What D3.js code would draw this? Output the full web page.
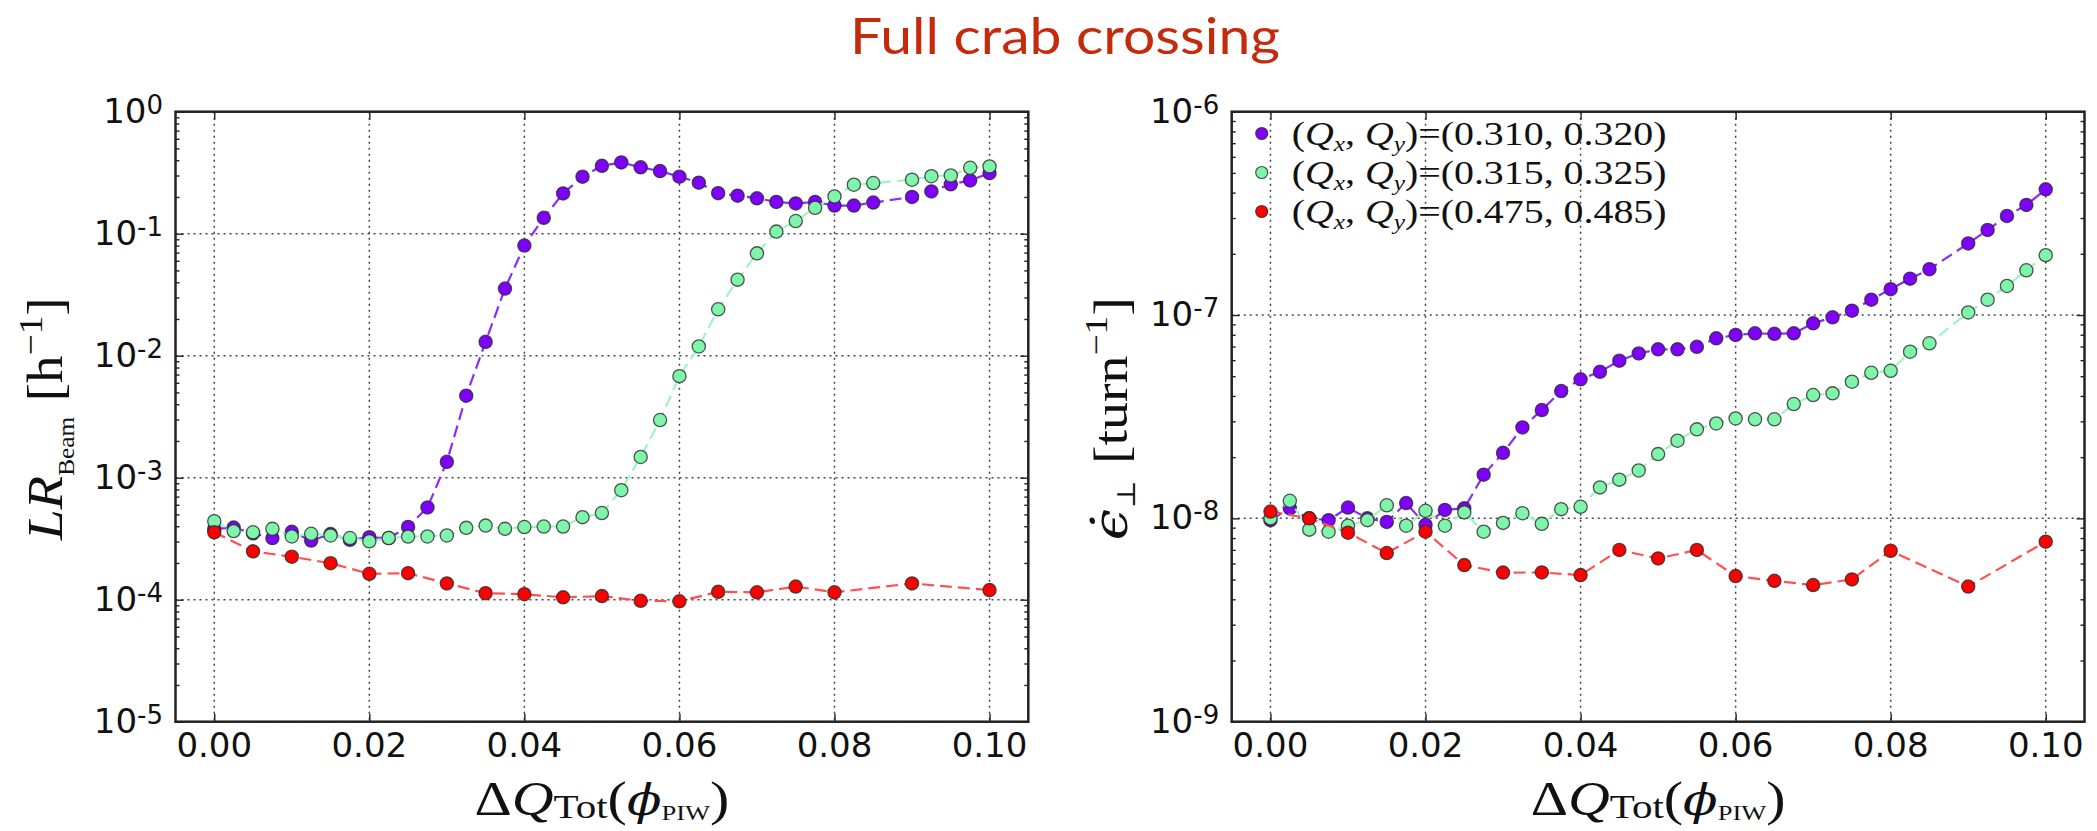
<!DOCTYPE html>
<html>
<head>
<meta charset="utf-8">
<script src="https://cdn.jsdelivr.net/npm/d3@7"></script>
<style>
  body { margin: 0; background: #fff; }
  svg { display: block; }
</style>
</head>
<body>
<svg id="chart" width="2097" height="831"></svg>
<script>
// Tune spread scan: ΔQ_Tot values of the fine scan (0.0875 was not run) and of the coarse scan
const dqFine = [0.0000, 0.0025, 0.0050, 0.0075, 0.0100, 0.0125, 0.0150, 0.0175, 0.0200, 0.0225,
                0.0250, 0.0275, 0.0300, 0.0325, 0.0350, 0.0375, 0.0400, 0.0425, 0.0450, 0.0475,
                0.0500, 0.0525, 0.0550, 0.0575, 0.0600, 0.0625, 0.0650, 0.0675, 0.0700, 0.0725,
                0.0750, 0.0775, 0.0800, 0.0825, 0.0850, 0.0900, 0.0925, 0.0950, 0.0975, 0.1000];
const dqCoarse = [0.000, 0.005, 0.010, 0.015, 0.020, 0.025, 0.030, 0.035, 0.040, 0.045,
                  0.050, 0.055, 0.060, 0.065, 0.070, 0.075, 0.080, 0.090, 0.100];

const xTickValues = [0.00, 0.02, 0.04, 0.06, 0.08, 0.10];

// Beam loss rate LR_Beam [1/h]
const lossPurple = [3.8e-4, 3.9e-4, 3.5e-4, 3.2e-4, 3.6e-4, 3.05e-4, 3.45e-4, 3.1e-4, 3.25e-4, 3.2e-4,
                    3.95e-4, 5.7e-4, 1.35e-3, 4.7e-3, 1.3e-2, 3.55e-2, 8.0e-2, 0.135, 0.214, 0.293,
                    0.36, 0.384, 0.35, 0.326, 0.293, 0.262, 0.215, 0.205, 0.195, 0.182,
                    0.177, 0.182, 0.17, 0.17, 0.18, 0.2, 0.222, 0.254, 0.273, 0.314];
const lossGreen = [4.4e-4, 3.65e-4, 3.57e-4, 3.81e-4, 3.3e-4, 3.47e-4, 3.36e-4, 3.2e-4, 3.01e-4, 3.2e-4,
                   3.29e-4, 3.3e-4, 3.36e-4, 3.88e-4, 4.05e-4, 3.81e-4, 3.94e-4, 3.98e-4, 3.98e-4, 4.75e-4,
                   5.13e-4, 7.9e-4, 1.48e-3, 2.97e-3, 6.8e-3, 1.19e-2, 2.4e-2, 4.2e-2, 6.9e-2, 0.104,
                   0.127, 0.163, 0.202, 0.252, 0.26, 0.277, 0.296, 0.30, 0.347, 0.356];
const lossRed = [3.57e-4, 2.49e-4, 2.25e-4, 1.99e-4, 1.63e-4, 1.65e-4, 1.36e-4, 1.13e-4, 1.11e-4, 1.045e-4,
                 1.07e-4, 0.98e-4, 0.97e-4, 1.16e-4, 1.15e-4, 1.28e-4, 1.15e-4, 1.36e-4, 1.2e-4];

// Emittance growth rate [1/turn]
const emitPurple = [9.8e-9, 1.12e-8, 1.0e-8, 9.8e-9, 1.13e-8, 1.0e-8, 9.6e-9, 1.19e-8, 9.3e-9, 1.1e-8,
                    1.12e-8, 1.64e-8, 2.1e-8, 2.8e-8, 3.41e-8, 4.23e-8, 4.83e-8, 5.26e-8, 5.96e-8, 6.47e-8,
                    6.78e-8, 6.78e-8, 6.98e-8, 7.68e-8, 7.98e-8, 8.13e-8, 8.08e-8, 8.13e-8, 9.1e-8, 9.75e-8,
                    1.05e-7, 1.19e-7, 1.34e-7, 1.51e-7, 1.68e-7, 2.25e-7, 2.62e-7, 3.07e-7, 3.48e-7, 4.15e-7];
const emitGreen = [1.0e-8, 1.22e-8, 8.8e-9, 8.6e-9, 9.2e-9, 9.8e-9, 1.16e-8, 9.2e-9, 1.09e-8, 9.2e-9,
                   1.07e-8, 8.6e-9, 9.5e-9, 1.06e-8, 9.4e-9, 1.11e-8, 1.14e-8, 1.42e-8, 1.55e-8, 1.72e-8,
                   2.07e-8, 2.41e-8, 2.74e-8, 2.93e-8, 3.1e-8, 3.07e-8, 3.07e-8, 3.65e-8, 4.04e-8, 4.12e-8,
                   4.7e-8, 5.2e-8, 5.32e-8, 6.6e-8, 7.26e-8, 1.03e-7, 1.19e-7, 1.39e-7, 1.66e-7, 1.97e-7];
const emitRed = [1.08e-8, 1.0e-8, 8.5e-9, 6.75e-9, 8.6e-9, 5.89e-9, 5.41e-9, 5.42e-9, 5.26e-9, 6.99e-9,
                 6.35e-9, 6.99e-9, 5.2e-9, 4.93e-9, 4.7e-9, 5.01e-9, 6.93e-9, 4.62e-9, 7.68e-9];

// Working points (legend)
const tuneQx = ["0.310", "0.315", "0.475"];
const tuneQy = ["0.320", "0.325", "0.485"];

// Styling
const markerFill = ["#7f00ff", "#7ff5ac", "#ff0000"];
const lineColor  = ["#8a2cff", "#9ff5c2", "#ff5050"];
const SERIF = "'Liberation Serif', 'DejaVu Serif', serif";
const SANS  = "'DejaVu Sans', sans-serif";

const svg = d3.select("#chart");
svg.append("rect").attr("width", 2097).attr("height", 831).attr("fill", "#fff");

// Scale a text element horizontally (in its own frame) so that it spans `width`,
// then place it at (cx, cy) with the given rotation.
function fitText(sel, cx, cy, width, rotate) {
  const w = sel.node().getBBox().width;
  const s = width / w;
  sel.attr("transform", `translate(${cx},${cy}) rotate(${rotate}) scale(${s},1)`);
}

// Title
const title = svg.append("text")
  .attr("x", 0).attr("y", 0)
  .attr("text-anchor", "middle")
  .style("font-family", "Lato, 'Open Sans', sans-serif")
  .style("font-size", "50px")
  .attr("fill", "#c52a0d")
  .text("Full crab crossing");
fitText(title, 1065, 54, 430, 0);

const panels = [
  { left: 175.5, right: 1028.3, top: 111.7, bottom: 721.7, yDomain: [1e-5, 1],
    series: [[dqFine, lossPurple], [dqFine, lossGreen], [dqCoarse, lossRed]],
    ylabel: "loss", legend: false },
  { left: 1231.7, right: 2084.5, top: 111.7, bottom: 721.7, yDomain: [1e-9, 1e-6],
    series: [[dqFine, emitPurple], [dqFine, emitGreen], [dqCoarse, emitRed]],
    ylabel: "emit", legend: true }
];

panels.forEach(drawPanel);

function drawPanel(p) {
  const g = svg.append("g");
  const x = d3.scaleLinear().domain([-0.005, 0.105]).range([p.left, p.right]);
  const y = d3.scaleLog().domain(p.yDomain).range([p.bottom, p.top]);

  const allY = y.ticks();
  const isMajor = d => Math.abs(Math.log10(d) - Math.round(Math.log10(d))) < 1e-6;
  const majors = allY.filter(isMajor);
  const minors = allY.filter(d => !isMajor(d));

  // grid
  const grid = g.append("g").attr("stroke", "#444").attr("stroke-width", 1.5)
    .attr("stroke-dasharray", "2,4");
  grid.selectAll("line.gx").data(xTickValues).join("line")
    .attr("x1", d => x(d)).attr("x2", d => x(d))
    .attr("y1", p.top).attr("y2", p.bottom);
  grid.selectAll("line.gy").data(majors).join("line")
    .attr("x1", p.left).attr("x2", p.right)
    .attr("y1", d => y(d)).attr("y2", d => y(d));

  // inward ticks on all four sides
  const tickAxis = (axis, tx, ty) => {
    const a = g.append("g").attr("transform", `translate(${tx},${ty})`).call(axis);
    a.select(".domain").remove();
    a.selectAll("line").attr("stroke", "#222").attr("stroke-width", 1.4);
    a.selectAll("text").remove();
  };
  tickAxis(d3.axisBottom(x).tickValues(xTickValues).tickSize(-8).tickSizeOuter(0), 0, p.bottom);
  tickAxis(d3.axisTop(x).tickValues(xTickValues).tickSize(-8).tickSizeOuter(0), 0, p.top);
  tickAxis(d3.axisLeft(y).tickValues(majors).tickSize(-8).tickSizeOuter(0), p.left, 0);
  tickAxis(d3.axisRight(y).tickValues(majors).tickSize(-8).tickSizeOuter(0), p.right, 0);
  tickAxis(d3.axisLeft(y).tickValues(minors).tickSize(-4).tickSizeOuter(0), p.left, 0);
  tickAxis(d3.axisRight(y).tickValues(minors).tickSize(-4).tickSizeOuter(0), p.right, 0);

  // x tick labels
  g.append("g").selectAll("text").data(xTickValues).join("text")
    .attr("x", d => x(d)).attr("y", p.bottom + 35)
    .attr("text-anchor", "middle")
    .style("font-family", SANS).style("font-size", "34px").attr("fill", "#111")
    .text(d3.format(".2f"));

  // y tick labels: 10^n
  const yl = g.append("g").selectAll("text").data(majors).join("text")
    .attr("x", p.left - 12.5).attr("y", d => y(d) + 11)
    .attr("text-anchor", "end")
    .style("font-family", SANS).attr("fill", "#111");
  yl.append("tspan").style("font-size", "34px").text("10");
  yl.append("tspan").style("font-size", "26px").attr("dy", -9)
    .text(d => { const e = Math.round(Math.log10(d)); return (e < 0 ? "-" : "") + Math.abs(e); });

  // series: dashed line, then markers (purple, green, red)
  const line = d3.line().x(d => x(d[0])).y(d => y(d[1]));
  p.series.forEach(([xs, ys], i) => {
    const pts = xs.map((v, k) => [v, ys[k]]);
    g.append("path").datum(pts)
      .attr("d", line).attr("fill", "none")
      .attr("stroke", lineColor[i]).attr("stroke-width", 2.2)
      .attr("stroke-dasharray", "12,6");
    g.append("g").selectAll("circle").data(pts).join("circle")
      .attr("cx", d => x(d[0])).attr("cy", d => y(d[1])).attr("r", 6.6)
      .attr("fill", markerFill[i])
      .attr("stroke", "#2b2b2b").attr("stroke-opacity", 0.8).attr("stroke-width", 1.3);
  });

  // frame
  g.append("rect")
    .attr("x", p.left).attr("y", p.top)
    .attr("width", p.right - p.left).attr("height", p.bottom - p.top)
    .attr("fill", "none").attr("stroke", "#222").attr("stroke-width", 2.5);

  // x axis label: ΔQ_Tot(ϕ_PIW)
  const xl = g.append("text").attr("text-anchor", "middle")
    .style("font-family", SERIF).style("font-size", "48px").attr("fill", "#111");
  xl.append("tspan").text("Δ");
  xl.append("tspan").style("font-style", "italic").text("Q");
  xl.append("tspan").style("font-size", "34px").attr("dy", 3).text("Tot");
  xl.append("tspan").attr("dy", -3).text("(");
  xl.append("tspan").style("font-style", "italic").style("font-family", "'DejaVu Serif', serif")
    .style("font-size", "42px").text("\u03D5");
  xl.append("tspan").style("font-size", "22px").attr("dy", 5).text("PIW");
  xl.append("tspan").attr("dy", -5).text(")");
  fitText(xl, (p.left + p.right) / 2, 815, 255, 0);

  // y axis label
  const cy = (p.top + p.bottom) / 2 + 2;
  if (p.ylabel === "loss") {
    const t = g.append("text").attr("text-anchor", "middle")
      .style("font-family", SERIF).style("font-size", "50px").attr("fill", "#111");
    t.append("tspan").style("font-style", "italic").text("LR");
    t.append("tspan").style("font-size", "23px").attr("dy", 12).text("Beam");
    t.append("tspan").attr("dy", -12).attr("dx", 14).text("[h");
    t.append("tspan").style("font-size", "34px").attr("dy", -20).text("−1");
    t.append("tspan").attr("dy", 20).text("]");
    fitText(t, 62, cy, 244, -90);
  } else {
    const t = g.append("text").attr("text-anchor", "middle")
      .style("font-family", SERIF).style("font-size", "48px").attr("fill", "#111");
    t.append("tspan").style("font-style", "italic").style("font-family", "'DejaVu Serif', serif").text("\u03F5\u0307");
    t.append("tspan").style("font-size", "26px").attr("dy", 8).text("⊥");
    t.append("tspan").attr("dy", -8).attr("dx", 14).text("[turn");
    t.append("tspan").style("font-size", "32px").attr("dy", -20).text("−1");
    t.append("tspan").attr("dy", 20).text("]");
    fitText(t, 1127, cy, 243, -90);
  }

  // legend
  if (p.legend) {
    tuneQx.forEach((qx, i) => {
      const my = 133.5 + i * 39;
      g.append("circle").attr("cx", 1261.7).attr("cy", my).attr("r", 6)
        .attr("fill", markerFill[i]).attr("stroke", "#2b2b2b")
        .attr("stroke-opacity", 0.8).attr("stroke-width", 1.2);
      const t = g.append("text").style("font-family", SERIF)
        .style("font-size", "33px").attr("fill", "#111");
      t.append("tspan").text("(");
      t.append("tspan").style("font-style", "italic").text("Q");
      t.append("tspan").style("font-size", "21px").style("font-style", "italic").attr("dy", 6).text("x");
      t.append("tspan").attr("dy", -6).text(", ");
      t.append("tspan").style("font-style", "italic").text("Q");
      t.append("tspan").style("font-size", "21px").style("font-style", "italic").attr("dy", 6).text("y");
      t.append("tspan").attr("dy", -6).text(")=(" + qx + ", " + tuneQy[i] + ")");
      const w = t.node().getBBox().width;
      t.attr("transform", `translate(1291.7,${my + 11.5}) scale(${375 / w},1)`);
    });
  }
}
</script>
</body>
</html>
